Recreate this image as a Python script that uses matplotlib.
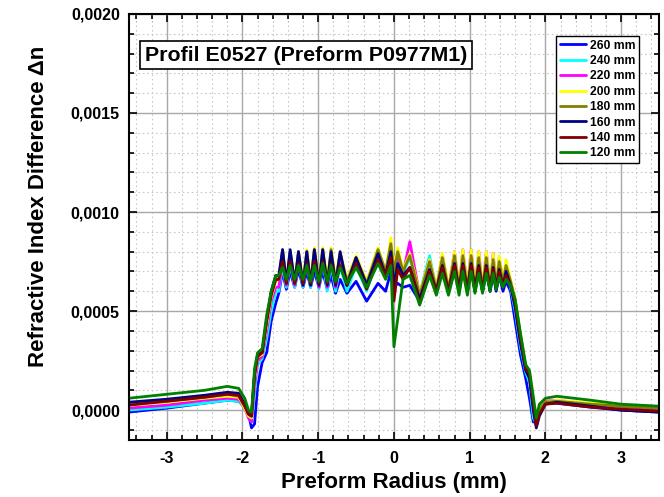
import numpy as np
import matplotlib
matplotlib.use("Agg")
import matplotlib.pyplot as plt
from matplotlib.ticker import MultipleLocator, FuncFormatter

plt.rcParams['font.family'] = ['Liberation Sans', 'DejaVu Sans']
plt.rcParams['font.weight'] = 'bold'

# DATA
# shared radius positions (mm), peaks / troughs of the ripple in the core
radius = [-3.50, -3.00, -2.50, -2.20, -2.05, -1.97, -1.92, -1.88, -1.84, -1.80,
          -1.74, -1.68, -1.62, -1.56,
          -1.52, -1.47, -1.42, -1.37, -1.31, -1.26, -1.20, -1.15, -1.10, -1.05,
          -0.99, -0.94, -0.88, -0.83, -0.77, -0.71, -0.62, -0.50, -0.36, -0.21,
          -0.11, -0.04,
          0.00, 0.05, 0.12, 0.21, 0.34, 0.47, 0.56, 0.64, 0.72, 0.80, 0.86, 0.91,
          0.97, 1.02, 1.07, 1.12, 1.17, 1.22, 1.27, 1.31, 1.35, 1.39, 1.44, 1.48,
          1.54, 1.60, 1.67, 1.74, 1.79, 1.84, 1.88, 1.92, 2.00, 2.15, 2.60, 3.00, 3.50]

labels = ["260 mm", "240 mm", "220 mm", "200 mm", "180 mm", "160 mm", "140 mm", "120 mm"]
colors = ["#0000ff", "#00ffff", "#ff00ff", "#ffff00", "#808000", "#000080", "#800000", "#008000"]

# refractive index difference in units of 1e-4
dn_260 = [-0.1, 0.1, 0.35, 0.5, 0.45, 0.2, -0.2, -0.9, -0.7, 1.2, 2.4, 2.9, 4.5, 5.4,
          5.9, 7.0, 6.1, 7.0, 6.2, 7.1, 6.2, 7.0, 6.2, 7.0, 6.2, 7.0, 6.1, 6.8, 5.9, 6.6, 5.9, 6.5, 5.5, 6.4, 6.0, 7.0,
          6.2, 6.4, 6.2, 6.3, 5.5, 6.8, 6.0, 7.0, 6.0, 7.0, 6.0, 7.1, 6.0, 7.1, 6.0, 7.0, 6.0, 7.0, 6.0, 6.9, 6.0, 6.8, 6.0, 6.5,
          6.0, 4.5, 2.8, 1.6, 0.6, -0.6, -0.5, 0.1, 0.35, 0.35, 0.15, 0.0, -0.1]
dn_240 = [0.0, 0.15, 0.35, 0.5, 0.45, 0.1, -0.3, -0.6, 0.8, 2.3, 2.6, 3.6, 5.0, 6.0,
          6.0, 7.3, 6.2, 7.4, 6.2, 7.5, 6.2, 7.5, 6.2, 7.6, 6.1, 7.6, 6.0, 7.4, 6.0, 7.3, 6.0, 7.3, 6.0, 7.7, 6.8, 7.8,
          6.9, 7.7, 6.9, 7.7, 5.9, 7.8, 6.1, 7.8, 6.1, 7.8, 6.1, 7.8, 6.1, 7.7, 6.1, 7.7, 6.1, 7.6, 6.2, 7.5, 6.3, 7.4, 6.3, 7.2,
          6.2, 5.0, 3.2, 1.9, 1.4, -0.4, -0.7, 0.1, 0.4, 0.45, 0.25, 0.15, 0.05]
dn_220 = [0.1, 0.25, 0.5, 0.6, 0.55, 0.1, -0.4, -0.6, 1.2, 2.5, 2.7, 4.0, 5.5, 6.2,
          6.2, 7.5, 6.3, 7.6, 6.3, 7.7, 6.3, 7.8, 6.3, 7.8, 6.2, 7.9, 6.2, 7.8, 6.2, 7.6, 6.3, 7.5, 6.2, 7.9, 6.9, 7.9,
          7.0, 7.8, 6.9, 8.5, 5.8, 7.6, 6.1, 7.8, 6.1, 8.0, 6.1, 8.1, 6.1, 8.1, 6.1, 8.0, 6.1, 8.0, 6.2, 7.9, 6.3, 7.7, 6.4, 7.4,
          6.4, 5.3, 3.5, 2.1, 1.7, 0.2, -0.8, 0.0, 0.45, 0.5, 0.3, 0.2, 0.05]
dn_200 = [0.25, 0.4, 0.6, 0.7, 0.65, 0.1, -0.3, -0.4, 1.6, 2.7, 2.8, 4.3, 5.7, 6.5,
          6.6, 8.0, 6.5, 8.0, 6.5, 8.0, 6.5, 8.1, 6.5, 8.2, 6.5, 8.2, 6.5, 8.2, 6.6, 8.0, 6.6, 7.8, 6.5, 8.2, 7.0, 8.7,
          7.2, 8.2, 7.1, 7.9, 5.9, 7.6, 6.2, 7.9, 6.2, 8.0, 6.2, 8.1, 6.2, 8.1, 6.2, 8.0, 6.2, 8.0, 6.3, 7.9, 6.4, 7.8, 6.5, 7.6,
          6.6, 5.6, 3.8, 2.2, 1.8, 0.3, -0.7, 0.0, 0.4, 0.5, 0.35, 0.25, 0.1]
dn_180 = [0.3, 0.45, 0.65, 0.8, 0.7, 0.2, -0.2, -0.3, 1.8, 2.8, 2.9, 4.5, 5.9, 6.6,
          6.6, 8.1, 6.4, 8.0, 6.4, 8.0, 6.4, 8.0, 6.4, 8.1, 6.4, 8.1, 6.4, 8.1, 6.5, 7.9, 6.5, 7.7, 6.4, 8.1, 7.0, 8.4,
          7.0, 8.0, 7.0, 7.8, 5.8, 7.5, 6.1, 7.7, 6.1, 7.8, 6.1, 7.8, 6.1, 7.8, 6.1, 7.7, 6.1, 7.7, 6.2, 7.6, 6.3, 7.5, 6.4, 7.3,
          6.5, 5.6, 3.8, 2.2, 1.8, 0.3, -0.7, 0.0, 0.4, 0.45, 0.3, 0.2, 0.1]
dn_160 = [0.4, 0.55, 0.75, 0.9, 0.85, 0.3, -0.2, -0.3, 1.8, 2.8, 2.9, 4.6, 6.0, 6.8,
          6.8, 8.1, 6.4, 8.1, 6.4, 8.0, 6.3, 8.0, 6.3, 8.1, 6.3, 8.1, 6.3, 8.0, 6.3, 8.0, 6.3, 7.7, 6.3, 7.9, 6.8, 8.0,
          6.3, 7.4, 6.8, 7.2, 5.6, 7.1, 6.0, 7.3, 6.0, 7.4, 6.0, 7.4, 6.0, 7.4, 6.0, 7.3, 6.0, 7.3, 6.0, 7.2, 6.1, 7.1, 6.2, 7.0,
          6.3, 5.2, 3.4, 2.0, 1.6, 0.0, -0.9, -0.3, 0.3, 0.4, 0.2, 0.0, -0.1]
dn_140 = [0.25, 0.45, 0.65, 0.8, 0.75, 0.2, -0.2, -0.3, 1.8, 2.7, 2.9, 4.5, 5.8, 6.6,
          6.6, 7.5, 6.4, 7.5, 6.4, 7.4, 6.4, 7.4, 6.4, 7.5, 6.4, 7.5, 6.4, 7.4, 6.4, 7.3, 6.3, 7.4, 6.1, 7.6, 6.8, 7.7,
          5.5, 7.1, 6.6, 7.2, 5.4, 7.0, 6.0, 7.2, 6.0, 7.3, 6.0, 7.3, 6.0, 7.3, 6.0, 7.2, 6.0, 7.2, 6.1, 7.1, 6.1, 7.0, 6.2, 6.8,
          6.3, 5.4, 3.6, 2.1, 1.8, 0.3, -0.8, -0.2, 0.3, 0.35, 0.15, 0.05, -0.05]
dn_120 = [0.6, 0.8, 1.0, 1.2, 1.1, 0.6, 0.0, -0.1, 2.1, 2.9, 3.1, 4.8, 6.0, 6.8,
          6.8, 7.2, 6.6, 7.3, 6.6, 7.3, 6.6, 7.3, 6.5, 7.3, 6.5, 7.4, 6.5, 7.3, 6.5, 7.2, 6.4, 7.2, 6.2, 7.4, 6.6, 7.3,
          3.2, 4.6, 6.6, 6.8, 5.3, 6.8, 5.8, 6.9, 5.8, 7.0, 5.8, 7.0, 5.8, 7.0, 5.9, 6.9, 5.9, 6.9, 6.0, 6.9, 6.1, 6.7, 6.2, 6.6,
          6.3, 5.6, 3.9, 2.3, 2.0, 0.7, -0.4, 0.3, 0.6, 0.7, 0.5, 0.3, 0.2]

profiles = [dn_260, dn_240, dn_220, dn_200, dn_180, dn_160, dn_140, dn_120]

# PLOT
fig = plt.figure(figsize=(6.64, 4.97), dpi=100, facecolor="white")
ax = fig.add_axes([0.194, 0.115, 0.7985, 0.857])

for prof, lab, col in zip(profiles, labels, colors):
    ax.plot(radius, np.array(prof) * 1e-4, color=col, lw=2.0, label=lab,
            solid_joinstyle="round", solid_capstyle="round")

ax.set_xlim(-3.5, 3.5)
ax.set_ylim(-0.00015, 0.0020)
ax.xaxis.set_major_locator(MultipleLocator(1))
ax.xaxis.set_minor_locator(MultipleLocator(0.2))
ax.yaxis.set_major_locator(MultipleLocator(0.0005))
ax.yaxis.set_minor_locator(MultipleLocator(0.0001))
ax.yaxis.set_major_formatter(FuncFormatter(lambda v, p: f"{abs(v):.4f}".replace(".", ",") if abs(v) < 1e-9 else f"{v:.4f}".replace(".", ",")))
ax.xaxis.set_major_formatter(FuncFormatter(lambda v, p: f"{int(round(v))}"))

ax.grid(True, which="major", color="#a8a8a8", lw=1.0, ls="-")
ax.grid(True, which="minor", color="#c8c8c8", lw=0.8, ls=(0, (1.5, 2.5)))
ax.set_axisbelow(True)

ax.tick_params(which="both", direction="in", top=True, right=True, labelsize=11.5, width=1.2)
ax.tick_params(which="major", length=6)
ax.tick_params(which="minor", length=3.5)
ax.tick_params(axis="x", pad=8)
ax.tick_params(axis="y", pad=6.5)
for lbl in ax.get_xticklabels() + ax.get_yticklabels():
    lbl.set_fontweight("bold")
for s in ax.spines.values():
    s.set_linewidth(1.5)

ax.set_xlabel("Preform Radius (mm)", fontsize=16, fontweight="bold")
ax.set_ylabel("Refractive Index Difference \u0394n", fontsize=16, fontweight="bold")
ax.xaxis.set_label_coords(0.5, -0.075)
ax.yaxis.set_label_coords(-0.150, 0.547)

ax.text(0.03, 0.903, "Profil E0527 (Preform P0977M1)", transform=ax.transAxes,
        fontsize=15.4, fontweight="bold", ha="left", va="center",
        bbox=dict(boxstyle="square,pad=0.22", facecolor="white", edgecolor="black", lw=1.2))

leg = ax.legend(loc="upper right", bbox_to_anchor=(0.962, 0.948),
                prop={"weight": "bold", "size": 8.7}, frameon=True, fancybox=False,
                edgecolor="black", handlelength=2.2, labelspacing=0.28,
                borderpad=0.3, handletextpad=0.3, borderaxespad=0)
leg.get_frame().set_linewidth(1.0)
leg.get_frame().set_alpha(1)

fig.savefig("out.png", dpi=100)
